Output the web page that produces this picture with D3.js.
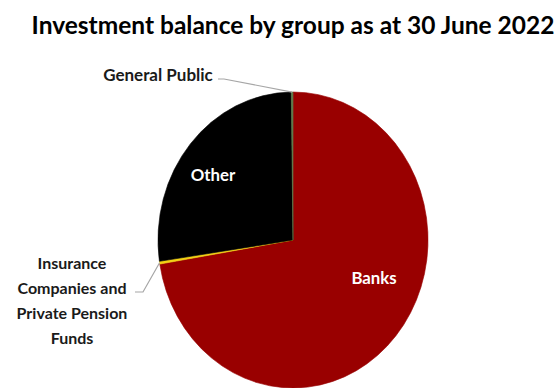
<!DOCTYPE html>
<html>
<head>
<meta charset="utf-8">
<script src="https://cdn.jsdelivr.net/npm/d3@7"></script>
<style>
  html, body { margin: 0; padding: 0; background: #fff; }
  svg { display: block; }
  text { font-family: Lato, "Open Sans", sans-serif; font-weight: bold; }
</style>
</head>
<body>
<svg id="chart" width="558" height="388"></svg>
<script>
// Investment balance shares (%) by holder group, clockwise from 12 o'clock
const groups = ["Banks", "Insurance Companies and Private Pension Funds", "Other", "General Public"];
const shares = [72.4, 0.3, 27.1, 0.2];
const colors = ["#990000", "#f2d214", "#000000", "#5f7a4a"];

const W = 558, H = 388;
const cx = 293, cy = 240, r = 135, yStretch = 1.096;

const svg = d3.select("#chart");

svg.append("text")
  .attr("x", 293).attr("y", 34)
  .attr("text-anchor", "middle")
  .attr("font-size", 24.5)
  .attr("fill", "#000")
  .text("Investment balance by group as at 30 June 2022");

const data = groups.map((g, i) => ({ group: g, value: shares[i], color: colors[i] }));
const pie = d3.pie().sort(null).value(d => d.value);
const arcs = pie(data);
const arc = d3.arc().innerRadius(0).outerRadius(r);

const g = svg.append("g")
  .attr("transform", `translate(${cx},${cy}) scale(1,${yStretch})`);

g.selectAll("path")
  .data(arcs)
  .join("path")
  .attr("d", arc)
  .attr("fill", d => d.data.color)
  .attr("stroke", d => d.data.color)
  .attr("stroke-width", 0.6);

// helper: point on the rim at a given angle, in page coordinates
function rim(a, rr = r) {
  return [cx + rr * Math.sin(a), cy - rr * Math.cos(a) * yStretch];
}
function mid(d) { return (d.startAngle + d.endAngle) / 2; }

// inside labels
const inside = [
  { idx: 0, text: "Banks", x: 374, y: 284 },
  { idx: 2, text: "Other", x: 213, y: 181 }
];
svg.selectAll("text.inside")
  .data(inside)
  .join("text")
  .attr("class", "inside")
  .attr("x", d => d.x).attr("y", d => d.y)
  .attr("text-anchor", "middle")
  .attr("font-size", 16.8)
  .attr("fill", "#fff")
  .text(d => d.text);

// leader lines for the thin slices
const gp = rim(mid(arcs[3]));
svg.append("polyline")
  .attr("points", [[218, 79], [224, 79], gp].map(p => p.join(",")).join(" "))
  .attr("fill", "none").attr("stroke", "#a6a6a6").attr("stroke-width", 1.2);

const ins = rim(mid(arcs[1]));
svg.append("polyline")
  .attr("points", [[135, 292], [143, 292], ins].map(p => p.join(",")).join(" "))
  .attr("fill", "none").attr("stroke", "#a6a6a6").attr("stroke-width", 1.2);

svg.append("text")
  .attr("x", 158).attr("y", 81)
  .attr("text-anchor", "middle")
  .attr("font-size", 17)
  .attr("fill", "#1a1a1a")
  .text("General Public");

const insLines = ["Insurance", "Companies and", "Private Pension", "Funds"];
svg.append("text")
  .attr("text-anchor", "middle")
  .attr("font-size", 16)
  .attr("fill", "#1a1a1a")
  .selectAll("tspan")
  .data(insLines)
  .join("tspan")
  .attr("x", 72)
  .attr("y", (d, i) => 269 + i * 25)
  .text(d => d);
</script>
</body>
</html>
